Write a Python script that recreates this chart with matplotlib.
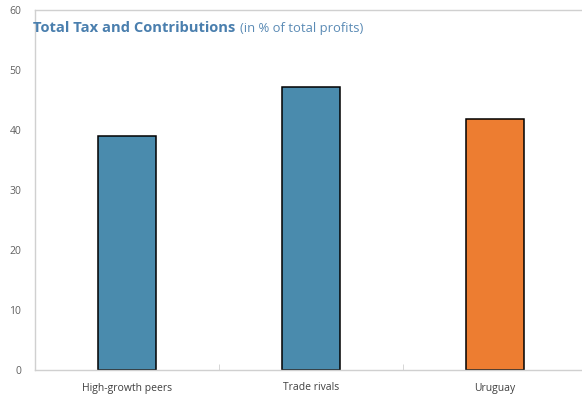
import matplotlib.pyplot as plt
from matplotlib.ticker import FixedLocator

plt.rcParams['font.family'] = ['Open Sans', 'DejaVu Sans']

categories = ['High-growth peers', 'Trade rivals', 'Uruguay']
values = [39.0, 47.1, 41.8]
colors = ['#4a8bad', '#4a8bad', '#ed7d31']

fig = plt.figure(figsize=(5.82, 3.94), dpi=100)
ax = fig.add_axes([35 / 582, 24 / 394, 552 / 582, 360 / 394])

x = range(len(categories))
ax.bar(x, values, width=0.315, color=colors, edgecolor='black', linewidth=1.1)

ax.set_xlim(-0.5, 2.5)
ax.set_ylim(0, 60)
ax.set_yticks(range(0, 61, 10))
ax.set_xticks(list(x))
ax.set_xticklabels(categories)
ax.xaxis.set_minor_locator(FixedLocator([0.5, 1.5]))
ax.tick_params(axis='x', which='major', length=0, pad=9, labelsize=7.5, labelcolor='#404040')
ax.tick_params(axis='x', which='minor', length=4, direction='in', color='#d0d0d0')
ax.tick_params(axis='y', length=0, pad=10, labelsize=7.5, labelcolor='#606060')

for side in ['left', 'bottom', 'top']:
    ax.spines[side].set_color('#d0d0d0')
    ax.spines[side].set_linewidth(1)
ax.spines['right'].set_visible(False)

t = ax.text(-0.004, 0.95, 'Total Tax and Contributions', transform=ax.transAxes,
            fontsize=10.6, fontweight='bold', color='#4a7fae', va='center', ha='left')
fig.canvas.draw()
bb = t.get_window_extent().transformed(ax.transAxes.inverted())
ax.text(bb.x1 + 0.008, 0.95, '(in % of total profits)', transform=ax.transAxes,
        fontsize=9.4, color='#5b8bb5', va='center', ha='left')

fig.savefig('out.png', dpi=100)
